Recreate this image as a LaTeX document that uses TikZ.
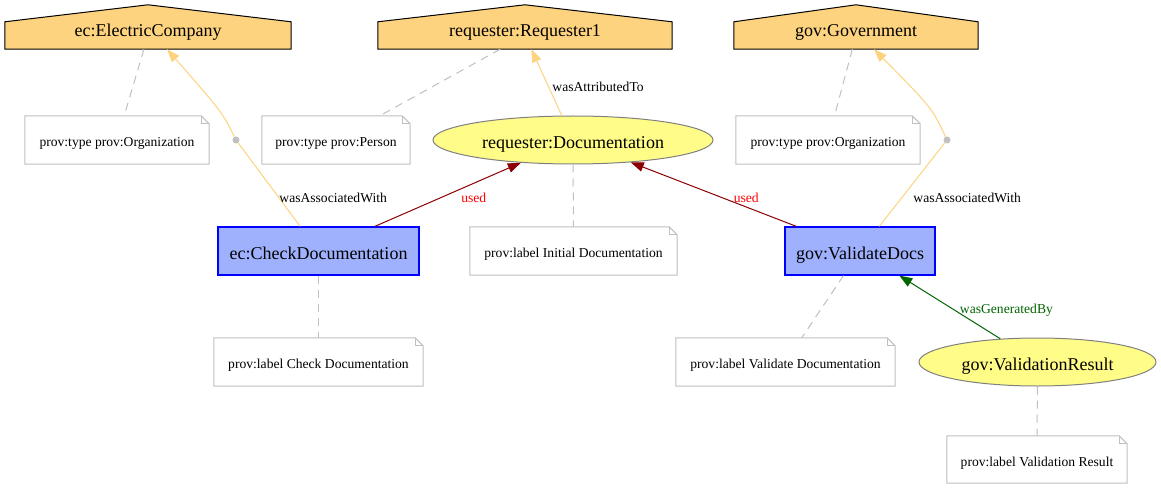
\documentclass[tikz,border=0pt]{standalone}
\usepackage{fontspec}
\setmainfont{Liberation Serif}
\usetikzlibrary{arrows.meta,shapes.geometric,backgrounds,calc}
\definecolor{agentfill}{HTML}{FED37F}
\definecolor{actfill}{HTML}{9FB1FC}
\definecolor{entfill}{HTML}{FFFC87}
\definecolor{entdraw}{HTML}{808080}
\definecolor{notedraw}{HTML}{C0C0C0}
\definecolor{useddraw}{HTML}{8B0000}
\definecolor{gendraw}{HTML}{006400}
\newcommand\mkhouse[1]{%
  \begin{scope}[on background layer]
  \filldraw[housefr] (#1.south west) -- (#1.north west) -- ([yshift=17pt]#1.north) -- (#1.north east) -- (#1.south east) -- cycle;
  \end{scope}}
\newcommand\mknote[1]{%
  \draw[notefr] (#1.south west) -- (#1.north west) -- ([xshift=-8pt]#1.north east) -- ([yshift=-8pt]#1.north east) -- (#1.south east) -- cycle;
  \draw[notefr] ([xshift=-8pt]#1.north east) |- ([yshift=-8pt]#1.north east);}
\begin{document}
\begin{tikzpicture}[x=1pt,y=-1pt,
  bigtxt/.style={font=\fontsize{18}{21}\selectfont, text height=17.8pt, text depth=.9pt, inner sep=0pt},
  agentn/.style={bigtxt, text height=12pt, text depth=9.6pt, minimum height=27pt},
  housefr/.style={fill=agentfill, draw=black, line width=1pt},
  actn/.style={bigtxt, draw=blue, fill=actfill, line width=1.2pt, minimum height=48pt},
  entn/.style={bigtxt, ellipse, draw=entdraw, fill=entfill, line width=1pt, minimum height=48pt},
  noten/.style={font=\fontsize{13.6}{16}\selectfont, text height=13.8pt, text depth=.7pt, inner sep=0pt, minimum height=48pt},
  notefr/.style={draw=notedraw, line width=1pt},
  dashln/.style={draw=notedraw, line width=1pt, dash pattern=on 8pt off 6pt},
  tipa/.style={-{Triangle[length=13pt,width=9.5pt]}},
  assoc/.style={draw=agentfill, line width=1pt},
  usedln/.style={draw=useddraw, line width=1pt, tipa},
  genln/.style={draw=gendraw, line width=1pt, tipa},
  elab/.style={font=\fontsize{13.6}{16}\selectfont, text height=.89em, text depth=.05em, inner sep=0pt, yshift=-3.5pt},
  dotn/.style={circle, fill=notedraw, inner sep=0pt, minimum size=7pt}
]
\useasboundingbox (0,0) rectangle (1161,489);
\begin{scope}[on background layer]
  \fill[white] (0,0) rectangle (1161,489);
\end{scope}

% agents
\node[agentn, minimum width=286pt] (ec) at (148,35.5) {ec:ElectricCompany};
\node[agentn, minimum width=294pt] (req) at (525,35.5) {requester:Requester1};
\node[agentn, minimum width=244pt] (gov) at (856,35.5) {gov:Government};
\mkhouse{ec}
\mkhouse{req}
\mkhouse{gov}

% notes and entities
\node[noten, minimum width=184pt] (ectype) at (117,140) {prov:type prov:Organization};
\mknote{ectype}
\node[noten, minimum width=148pt] (reqtype) at (336,140) {prov:type prov:Person};
\mknote{reqtype}
\node[entn, minimum width=280pt] (doc) at (573,140) {requester:Documentation};
\node[noten, minimum width=184pt] (govtype) at (828,140) {prov:type prov:Organization};
\mknote{govtype}
\node[dotn] (dotl) at (236,140) {};
\node[dotn] (dotr) at (947,140) {};

\node[actn, minimum width=201pt] (check) at (318.5,251) {ec:CheckDocumentation};
\node[noten, minimum width=207pt] (docl) at (573.5,251) {prov:label Initial Documentation};
\mknote{docl}
\node[actn, minimum width=150pt] (valid) at (860,251) {gov:ValidateDocs};

\node[noten, minimum width=209pt] (checkl) at (318.5,362) {prov:label Check Documentation};
\mknote{checkl}
\node[noten, minimum width=219pt] (validl) at (785.5,362) {prov:label Validate Documentation};
\mknote{validl}
\node[entn, minimum width=237pt] (res) at (1037.5,362) {gov:ValidationResult};
\node[noten, minimum width=180pt, minimum height=47pt] (resl) at (1037,459.5) {prov:label Validation Result};
\mknote{resl}

% dashed attribute links
\draw[dashln] (ec) -- (ectype);
\draw[dashln] (req) -- (reqtype);
\draw[dashln] (gov) -- (govtype);
\draw[dashln] (doc) -- (docl);
\draw[dashln] (check) -- (checkl);
\draw[dashln] (valid) -- (validl);
\draw[dashln] (res) -- (resl);

% relations
\draw[assoc] (check) -- node[elab, pos=0.382, anchor=west, xshift=2.4pt] {wasAssociatedWith} (dotl);
\draw[assoc, tipa] (dotl) .. controls (222,112) .. ([xshift=19pt]ec.south);
\draw[assoc] (valid) -- node[elab, pos=0.382, anchor=west, xshift=8.7pt] {wasAssociatedWith} (dotr);
\draw[assoc, tipa] (dotr) .. controls (932,108) .. ([xshift=18pt]gov.south);
\draw[assoc, tipa] (doc) -- node[elab, pos=0.486, anchor=west, xshift=5pt] {wasAttributedTo} (req);
\draw[usedln] (check) -- node[elab, text=red, pos=0.502, xshift=25.6pt] {used} (doc);
\draw[usedln] (valid) -- node[elab, text=red, pos=0.499, xshift=32.5pt] {used} (doc);
\draw[genln] (res) -- node[elab, text=gendraw, pos=0.52, anchor=west, xshift=11.7pt] {wasGeneratedBy} (valid);
\end{tikzpicture}
\end{document}
